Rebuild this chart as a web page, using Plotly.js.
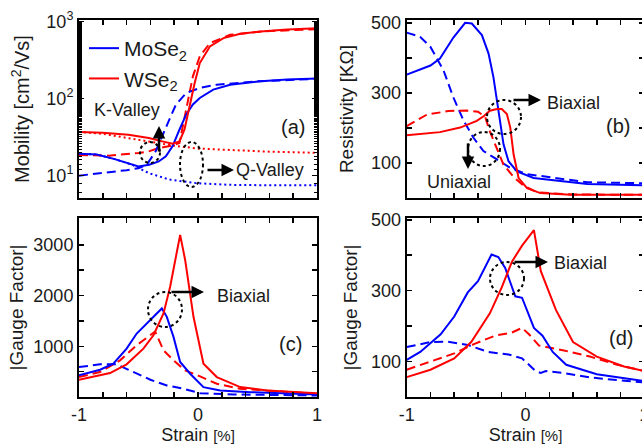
<!DOCTYPE html>
<html><head><meta charset="utf-8">
<script src="https://cdn.plot.ly/plotly-3.0.1.min.js"></script>
<style>html,body{margin:0;padding:0;overflow:hidden;background:#fff}#plot{width:650px;height:447px}</style>
</head><body><div id="plot"></div>
<script>
// ---------- DATA ----------
// (a) Mobility [cm2/Vs] vs strain [%]
const aMoBiX = [-1, -0.85, -0.7, -0.55, -0.5, -0.41, -0.33, -0.27, -0.214, -0.156, -0.1, -0.043, 0.015, 0.128, 0.27, 0.527, 0.75, 1];
const aMoBiY = [19.3, 18.8, 16.4, 13.9, 13.2, 13.9, 15.3, 17.8, 24, 39.5, 62, 84, 102, 131, 152, 168, 177, 183];
const aMoUniX = [-1, -0.8, -0.6, -0.5, -0.43, -0.356, -0.3, -0.242, -0.185, -0.1, 0.015, 0.157, 0.5, 1];
const aMoUniY = [10, 10.8, 11.8, 12.5, 13.9, 20.7, 32, 53, 84, 118, 138, 152, 168, 181];
const aMoQX = [-1, -0.85, -0.7, -0.55, -0.413, -0.242, -0.014, 0.27, 0.6, 1];
const aMoQY = [19.3, 18.8, 16.4, 13.8, 10.8, 8.9, 8.0, 7.6, 7.5, 7.5];
const aWBiX = [-1, -0.8, -0.584, -0.413, -0.3, -0.214, -0.156, -0.114, -0.071, -0.028, 0.015, 0.1, 0.214, 0.356, 0.527, 0.75, 1];
const aWBiY = [37, 36, 34, 30.8, 27.9, 26, 27.9, 39.5, 79, 160, 290, 477, 613, 698, 748, 790, 820];
const aWUniX = [-1, -0.75, -0.498, -0.413, -0.327, -0.22, -0.156, -0.085, -0.043, 0.015, 0.1, 0.27, 0.55, 1];
const aWUniY = [18.5, 18.2, 19.7, 20.7, 22.9, 24.5, 26.6, 88, 195, 355, 527, 676, 750, 800];
const aWQX = [-1, -0.8, -0.6, -0.4, -0.2, 0, 0.3, 0.6, 1];
const aWQY = [37, 35, 31, 27.5, 24.5, 22.5, 21.5, 20.5, 19.8];

// (b) Resistivity [KOhm] vs strain [%]
const bMoBiX = [-1, -0.8, -0.72, -0.607, -0.508, -0.452, -0.367, -0.311, -0.27, -0.227, -0.185, -0.143, -0.072, 0.068, 0.266, 0.52, 1];
const bMoBiY = [352, 378, 398, 458, 500, 498, 465, 412, 345, 249, 153, 105, 76, 57, 49, 40, 36];
const bMoUniX = [-1, -0.887, -0.8, -0.69, -0.607, -0.52, -0.438, -0.354, -0.24, -0.128, 0.013, 0.237, 0.52, 1];
const bMoUniY = [472, 460, 431, 364, 287, 220, 172, 134, 110, 86, 68, 57, 45, 42];
const bWBiX = [-1, -0.72, -0.55, -0.41, -0.35, -0.3, -0.24, -0.2, -0.157, -0.128, -0.1, -0.058, 0.013, 0.125, 0.38, 1];
const bWBiY = [179, 188, 201, 220, 234, 249, 254, 254, 240, 201, 124, 57, 28, 14, 9, 9];
const bWUniX = [-1, -0.83, -0.65, -0.5, -0.4, -0.34, -0.3, -0.24, -0.185, -0.1, -0.016, 0.1, 0.4, 1];
const bWUniY = [205, 238, 248, 250, 246, 232, 190, 143, 95, 60, 35, 16, 10, 9];

// (c) |Gauge Factor| vs strain [%]
const cMoBiX = [-1, -0.823, -0.711, -0.6, -0.515, -0.4, -0.304, -0.262, -0.206, -0.15, -0.066, 0.046, 0.187, 0.44, 1];
const cMoBiY = [426, 538, 657, 954, 1251, 1515, 1746, 1581, 1185, 690, 459, 195, 129, 96, 50];
const cMoUniX = [-1, -0.823, -0.683, -0.543, -0.4, -0.262, -0.122, 0.018, 0.3, 1];
const cMoUniY = [591, 644, 644, 492, 340, 228, 162, 76, 50, 30];
const cWBiX = [-1, -0.739, -0.6, -0.459, -0.374, -0.29, -0.234, -0.192, -0.15, -0.108, -0.038, 0.046, 0.158, 0.355, 0.58, 1];
const cWBiY = [340, 472, 644, 954, 1218, 1647, 2175, 2703, 3198, 2703, 1581, 657, 393, 195, 129, 76];
const cWUniX = [-1, -0.823, -0.655, -0.515, -0.36, -0.29, -0.206, -0.108, 0.018, 0.158, 0.355, 1];
const cWUniY = [393, 492, 723, 1020, 1290, 921, 723, 525, 406, 261, 162, 63];

// (d) |Gauge Factor| vs strain [%]
const dMoBiX = [-1, -0.886, -0.714, -0.6, -0.486, -0.4, -0.286, -0.229, -0.171, -0.086, -0.029, 0.071, 0.143, 0.229, 0.343, 0.6, 1];
const dMoBiY = [104.5, 127, 177, 227, 295, 327, 402, 395, 364, 284, 280, 195, 173, 127, 91, 64, 45];
const dMoUniX = [-1, -0.8, -0.657, -0.486, -0.314, -0.143, -0.029, 0.086, 0.129, 0.171, 0.314, 0.543, 1];
const dMoUniY = [141, 155, 156, 147, 127, 120, 109, 73, 68, 73, 68, 55, 41];
const dWBiX = [-1, -0.8, -0.6, -0.457, -0.3, -0.2, -0.114, -0.029, 0.071, 0.129, 0.257, 0.4, 0.6, 0.829, 1];
const dWBiY = [56, 77, 109, 155, 236, 309, 382, 427, 471, 355, 245, 155, 114, 86, 73];
const dWUniX = [-1, -0.8, -0.6, -0.429, -0.257, -0.114, -0.029, 0.029, 0.114, 0.314, 0.543, 0.771, 1];
const dWUniY = [77, 100, 123, 150, 173, 182, 195, 177, 145, 132, 114, 91, 73];

// tick definitions
const strainTicks = [-1, -0.8, -0.6, -0.4, -0.2, 0, 0.2, 0.4, 0.6, 0.8, 1];
const strainTickText = ['-1', '', '', '', '', '0', '', '', '', '', '1'];
const mobTicks = [10, 100, 1000];
const mobTickText = ['10<sup>1</sup>', '10<sup>2</sup>', '10<sup>3</sup>'];
const resTicks = [100, 200, 300, 400, 500];
const resTickText = ['100', '', '300', '', '500'];
const gfcTicks = [500, 1000, 1500, 2000, 2500, 3000];
const gfcTickText = ['', '1000', '', '2000', '', '3000'];
const gfdTicks = [100, 200, 300, 400, 500];
const gfdTickText = ['100', '', '300', '', '500'];
const seriesNames = ['MoSe<sub>2</sub>', 'WSe<sub>2</sub>'];

// ---------- STYLE ----------
const W = 650, H = 447;
const BLUE = '#0000ff', RED = '#ff0000', TXT = '#1a1a1a';
const FONT = 'Liberation Sans, Arial, sans-serif';
const DASH = '9px,5px', DOT = '2px,3px';
const px = v => v / W, py = v => 1 - v / H;

function tr(x, y, color, dash, xa, ya, name, show) {
  return {x: x, y: y, type: 'scatter', mode: 'lines', xaxis: xa, yaxis: ya,
    name: name || '', showlegend: !!show, hoverinfo: 'skip',
    line: {color: color, width: 2, dash: dash}};
}
const traces = [
  tr(aMoQX, aMoQY, BLUE, DOT, 'x', 'y'),
  tr(aWQX, aWQY, RED, DOT, 'x', 'y'),
  tr(aWUniX, aWUniY, RED, DASH, 'x', 'y'),
  tr(aMoUniX, aMoUniY, BLUE, DASH, 'x', 'y'),
  tr(aMoBiX, aMoBiY, BLUE, 'solid', 'x', 'y', seriesNames[0], true),
  tr(aWBiX, aWBiY, RED, 'solid', 'x', 'y', seriesNames[1], true),

  tr(bMoUniX, bMoUniY, BLUE, DASH, 'x2', 'y2'),
  tr(bWUniX, bWUniY, RED, DASH, 'x2', 'y2'),
  tr(bMoBiX, bMoBiY, BLUE, 'solid', 'x2', 'y2'),
  tr(bWBiX, bWBiY, RED, 'solid', 'x2', 'y2'),

  tr(cMoUniX, cMoUniY, BLUE, DASH, 'x3', 'y3'),
  tr(cWUniX, cWUniY, RED, DASH, 'x3', 'y3'),
  tr(cMoBiX, cMoBiY, BLUE, 'solid', 'x3', 'y3'),
  tr(cWBiX, cWBiY, RED, 'solid', 'x3', 'y3'),

  tr(dMoUniX, dMoUniY, BLUE, DASH, 'x4', 'y4'),
  tr(dWUniX, dWUniY, RED, DASH, 'x4', 'y4'),
  tr(dMoBiX, dMoBiY, BLUE, 'solid', 'x4', 'y4'),
  tr(dWBiX, dWBiY, RED, 'solid', 'x4', 'y4')
];

const tickFont = {family: FONT, size: 18, color: TXT};
const common = {showline: true, linecolor: '#000', linewidth: 2, mirror: 'ticks',
  ticks: 'inside', ticklen: 5, tickwidth: 1.5, tickcolor: '#000',
  showgrid: false, zeroline: false, tickfont: tickFont, automargin: false, fixedrange: true};
function xax(domain, anchor, labels) {
  return Object.assign({}, common, {domain: domain, anchor: anchor, range: [-1, 1],
    tickmode: 'array', tickvals: strainTicks, ticktext: strainTickText, showticklabels: labels,
    title: labels ? {text: 'Strain <span style="font-size:15px">[%]</span>',
      font: {family: FONT, size: 18, color: TXT}, standoff: 2} : {text: ''}});
}
function yax(domain, anchor, range, tv, tt, title, standoff, size, extra) {
  return Object.assign({}, common, {domain: domain, anchor: anchor, range: range,
    tickmode: 'array', tickvals: tv, ticktext: tt,
    title: {text: title, font: {family: FONT, size: size, color: TXT}, standoff: standoff}}, extra || {});
}
const topD = [py(198), py(20)], botD = [py(397), py(218)];
const leftD = [px(79), px(317)], rightD = [px(406.7), px(644.3)];

const shapes = [];
function ell(x0, x1, y0, y1) {
  shapes.push({type: 'circle', xref: 'paper', yref: 'paper', x0: px(x0), x1: px(x1),
    y0: py(y1), y1: py(y0), line: {color: '#000', width: 2, dash: 'dot'}});
}
ell(140, 160, 142, 163);
ell(180, 203, 142, 187);
ell(487, 521, 100, 134);
ell(468, 500, 132, 166);
ell(148, 182, 292, 327);
ell(490, 524, 262, 295);

const ann = [];
function txt(t, cx, cy, size) {
  ann.push({text: t, x: px(cx), y: py(cy), xref: 'paper', yref: 'paper', showarrow: false,
    xanchor: 'center', yanchor: 'middle', font: {family: FONT, size: size || 18, color: TXT}});
}
function arrow(tx, ty, hx, hy) {
  ann.push({text: '', x: px(hx), y: py(hy), xref: 'paper', yref: 'paper', showarrow: true,
    ax: tx - hx, ay: ty - hy, axref: 'pixel', ayref: 'pixel', arrowhead: 2, arrowsize: 1,
    arrowwidth: 2.5, arrowcolor: '#000', standoff: 0, startstandoff: 0});
}
txt('K-Valley', 126.5, 110);
arrow(159, 153, 159, 126);
txt('Q-Valley', 270, 170);
arrow(206, 170, 234, 170);
txt('(a)', 292.5, 127, 20);
txt('Biaxial', 573.5, 103);
arrow(512, 100, 541, 100);
txt('(b)', 618, 126, 20);
txt('Uniaxial', 458.5, 182);
arrow(468, 142, 468, 169);
txt('Biaxial', 243.5, 296);
arrow(170, 292, 204, 292);
txt('(c)', 290.5, 344, 20);
txt('Biaxial', 580.5, 263);
arrow(513, 262, 548, 262);
txt('(d)', 620.5, 338, 20);

const layout = {
  width: W, height: H, margin: {l: 0, r: 0, t: 0, b: 0},
  paper_bgcolor: '#fff', plot_bgcolor: '#fff',
  font: {family: FONT, color: TXT},
  showlegend: true,
  legend: {x: px(84), y: py(28), xanchor: 'left', yanchor: 'top', bgcolor: 'rgba(0,0,0,0)',
    font: {family: FONT, size: 21, color: TXT}, tracegroupgap: 0},
  xaxis: xax(leftD, 'y', false),
  yaxis: yax(topD, 'x', [0.71, 3.022], mobTicks, mobTickText, 'Mobility [cm<sup>2</sup>/Vs]', 11, 20,
    {type: 'log', minor: {ticks: 'inside', ticklen: 3, tickcolor: '#000', tickwidth: 1, showgrid: false}}),
  xaxis2: xax(rightD, 'y2', false),
  yaxis2: yax(topD, 'x2', [0, 508], resTicks, resTickText, 'Resistivity [KΩ]', 12, 19),
  xaxis3: xax(leftD, 'y3', true),
  yaxis3: yax(botD, 'x3', [0, 3530], gfcTicks, gfcTickText, '|Gauge Factor|', 5, 19),
  xaxis4: xax(rightD, 'y4', true),
  yaxis4: yax(botD, 'x4', [0, 505], gfdTicks, gfdTickText, '|Gauge Factor|', 8, 19),
  shapes: shapes, annotations: ann
};
Plotly.newPlot('plot', traces, layout, {staticPlot: true, displayModeBar: false});
</script></body></html>
